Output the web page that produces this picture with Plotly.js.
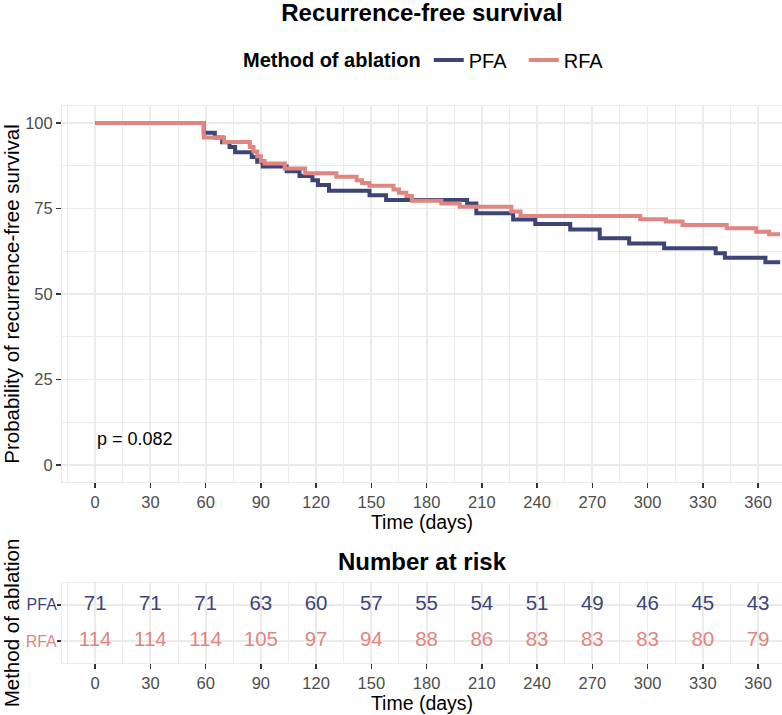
<!DOCTYPE html>
<html>
<head>
<meta charset="utf-8">
<script src="https://cdn.plot.ly/plotly-3.0.1.min.js"></script>
<style>html,body{margin:0;padding:0;background:#fff;}#chart{width:782px;height:715px;}</style>
</head>
<body>
<div id="chart"></div>
<script>
// ---- data ----
const groups = ['PFA', 'RFA'];
const pfaTime = [0, 59, 65, 69, 73, 76, 85, 88, 91, 104, 111, 118, 121, 127, 149, 158, 202, 207, 227, 239, 258, 274, 290, 309, 337, 342, 364, 372];
const pfaSurv = [100, 97.2, 95.8, 94.4, 93.0, 91.5, 90.1, 88.7, 87.3, 85.9, 84.5, 83.3, 81.9, 80.2, 78.9, 77.5, 76.5, 73.6, 71.8, 70.5, 68.9, 66.3, 64.8, 63.4, 61.9, 60.6, 59.3, 59.3];
const rfaTime = [0, 59, 70, 84, 86, 88, 90, 92, 103, 114, 131, 142, 145, 149, 162, 165, 169, 172, 188, 198, 226, 231, 296, 310, 319, 343, 359, 366, 372];
const rfaSurv = [100, 95.8, 94.5, 93.0, 91.7, 90.3, 88.9, 88.2, 86.7, 85.3, 84.3, 83.3, 82.5, 81.7, 80.6, 79.6, 78.7, 77.3, 76.5, 75.5, 74.1, 72.8, 71.9, 71.2, 70.2, 69.2, 68.2, 67.5, 67.5];
const riskTimes = [0, 30, 60, 90, 120, 150, 180, 210, 240, 270, 300, 330, 360];
const pfaRisk = [71, 71, 71, 63, 60, 57, 55, 54, 51, 49, 46, 45, 43];
const rfaRisk = [114, 114, 114, 105, 97, 94, 88, 86, 83, 83, 83, 80, 79];
const timeTicks = [0, 30, 60, 90, 120, 150, 180, 210, 240, 270, 300, 330, 360];
const survTicks = [0, 25, 50, 75, 100];
const pValueText = 'p = 0.082';

// ---- styles ----
const F = 'Liberation Sans, Arial, Helvetica, sans-serif';
const colPFA = '#3D4576';
const colRFA = '#E0857F';
const grid = '#EBEBEB';
const tickTxt = '#4D4D4D';

const traces = [
  {x: pfaTime, y: pfaSurv, name: groups[0], type: 'scatter', mode: 'lines',
   line: {shape: 'hv', color: colPFA, width: 4}, xaxis: 'x', yaxis: 'y'},
  {x: rfaTime, y: rfaSurv, name: groups[1], type: 'scatter', mode: 'lines',
   line: {shape: 'hv', color: colRFA, width: 4}, xaxis: 'x', yaxis: 'y'},
  {x: riskTimes, y: riskTimes.map(() => 2), text: pfaRisk.map(String), type: 'scatter', mode: 'text',
   textfont: {family: F, size: 20.5, color: colPFA}, showlegend: false, xaxis: 'x2', yaxis: 'y2', cliponaxis: false},
  {x: riskTimes, y: riskTimes.map(() => 1), text: rfaRisk.map(String), type: 'scatter', mode: 'text',
   textfont: {family: F, size: 20.5, color: colRFA}, showlegend: false, xaxis: 'x2', yaxis: 'y2', cliponaxis: false}
];

const H = 715;
const xCommon = {
  range: [-18, 373], tickmode: 'array', tickvals: timeTicks, ticktext: timeTicks.map(String),
  ticks: 'outside', ticklen: 5, tickwidth: 1.5, tickcolor: '#333333',
  tickfont: {family: F, size: 16.5, color: tickTxt},
  showgrid: true, gridcolor: grid, gridwidth: 1.8,
  minor: {tickmode: 'linear', tick0: -15, dtick: 30, showgrid: true, gridcolor: grid, gridwidth: 1},
  zeroline: false, showline: true, linecolor: grid, linewidth: 1, mirror: true,
  fixedrange: true
};

const layout = {
  width: 782, height: 715,
  margin: {l: 62, r: 0, t: 0, b: 0},
  paper_bgcolor: '#ffffff', plot_bgcolor: '#ffffff',
  font: {family: F, color: '#000000'},
  hovermode: false,
  title: {text: '<b>Recurrence-free survival</b>', x: 422 / 782, xanchor: 'center',
          y: 1 - 13 / H, yanchor: 'middle', font: {family: F, size: 24, color: '#000'}},
  showlegend: true,
  legend: {orientation: 'h', x: 0.5 + 8 / 720, xanchor: 'center', y: 1 - 60 / H, yanchor: 'middle',
           title: {text: '<b>Method of ablation</b>', side: 'left', font: {family: F, size: 20}},
           font: {family: F, size: 20, color: '#000'}, bgcolor: 'rgba(0,0,0,0)', itemwidth: 30,
           entrywidth: 50, entrywidthmode: 'pixels'},
  xaxis: Object.assign({}, xCommon, {domain: [0, 1], anchor: 'y',
          title: {text: 'Time (days)', font: {family: F, size: 19.5, color: '#000'}, standoff: 4}}),
  yaxis: {domain: [1 - 482 / H, 1 - 106 / H], range: [-5, 105], anchor: 'x',
          tickmode: 'array', tickvals: survTicks, ticktext: survTicks.map(String),
          ticks: 'outside', ticklen: 5, tickwidth: 1.5, tickcolor: '#333333',
          tickfont: {family: F, size: 16.5, color: tickTxt},
          showgrid: true, gridcolor: grid, gridwidth: 1.8,
          minor: {tickmode: 'linear', tick0: 12.5, dtick: 25, showgrid: true, gridcolor: grid, gridwidth: 1},
          zeroline: false, showline: true, linecolor: grid, linewidth: 1, mirror: true, fixedrange: true,
          title: {text: 'Probability of recurrence-free survival', font: {family: F, size: 20.5, color: '#000'}, standoff: 4}},
  xaxis2: Object.assign({}, xCommon, {domain: [0, 1], anchor: 'y2',
          title: {text: 'Time (days)', font: {family: F, size: 19.5, color: '#000'}, standoff: 4}}),
  yaxis2: {domain: [1 - 663 / H, 1 - 583 / H], range: [0.4, 2.6], anchor: 'x2',
          tickmode: 'array', tickvals: [2, 1],
          ticktext: ['<span style="color:' + colPFA + '">' + groups[0] + '</span>',
                     '<span style="color:' + colRFA + '">' + groups[1] + '</span>'],
          ticks: 'outside', ticklen: 4, tickwidth: 1.5, tickcolor: '#333333',
          tickfont: {family: F, size: 16, color: tickTxt}, ticklabelstandoff: -3,
          showgrid: true, gridcolor: grid, gridwidth: 1.8,
          zeroline: false, showline: true, linecolor: grid, linewidth: 1, mirror: true, fixedrange: true,
          title: {text: 'Method of ablation', font: {family: F, size: 20.5, color: '#000'}, standoff: 4}},
  annotations: [
    {text: pValueText, xref: 'x', yref: 'y', x: 0, y: 7.5, xanchor: 'left', yanchor: 'middle',
     showarrow: false, font: {family: F, size: 18, color: '#000'}},
    {text: '<b>Number at risk</b>', xref: 'paper', yref: 'paper', x: 0.5, y: 1 - 561 / H,
     xanchor: 'center', yanchor: 'middle', showarrow: false, font: {family: F, size: 24, color: '#000'}}
  ]
};

Plotly.newPlot('chart', traces, layout, {displayModeBar: false, staticPlot: true});
</script>
</body>
</html>
